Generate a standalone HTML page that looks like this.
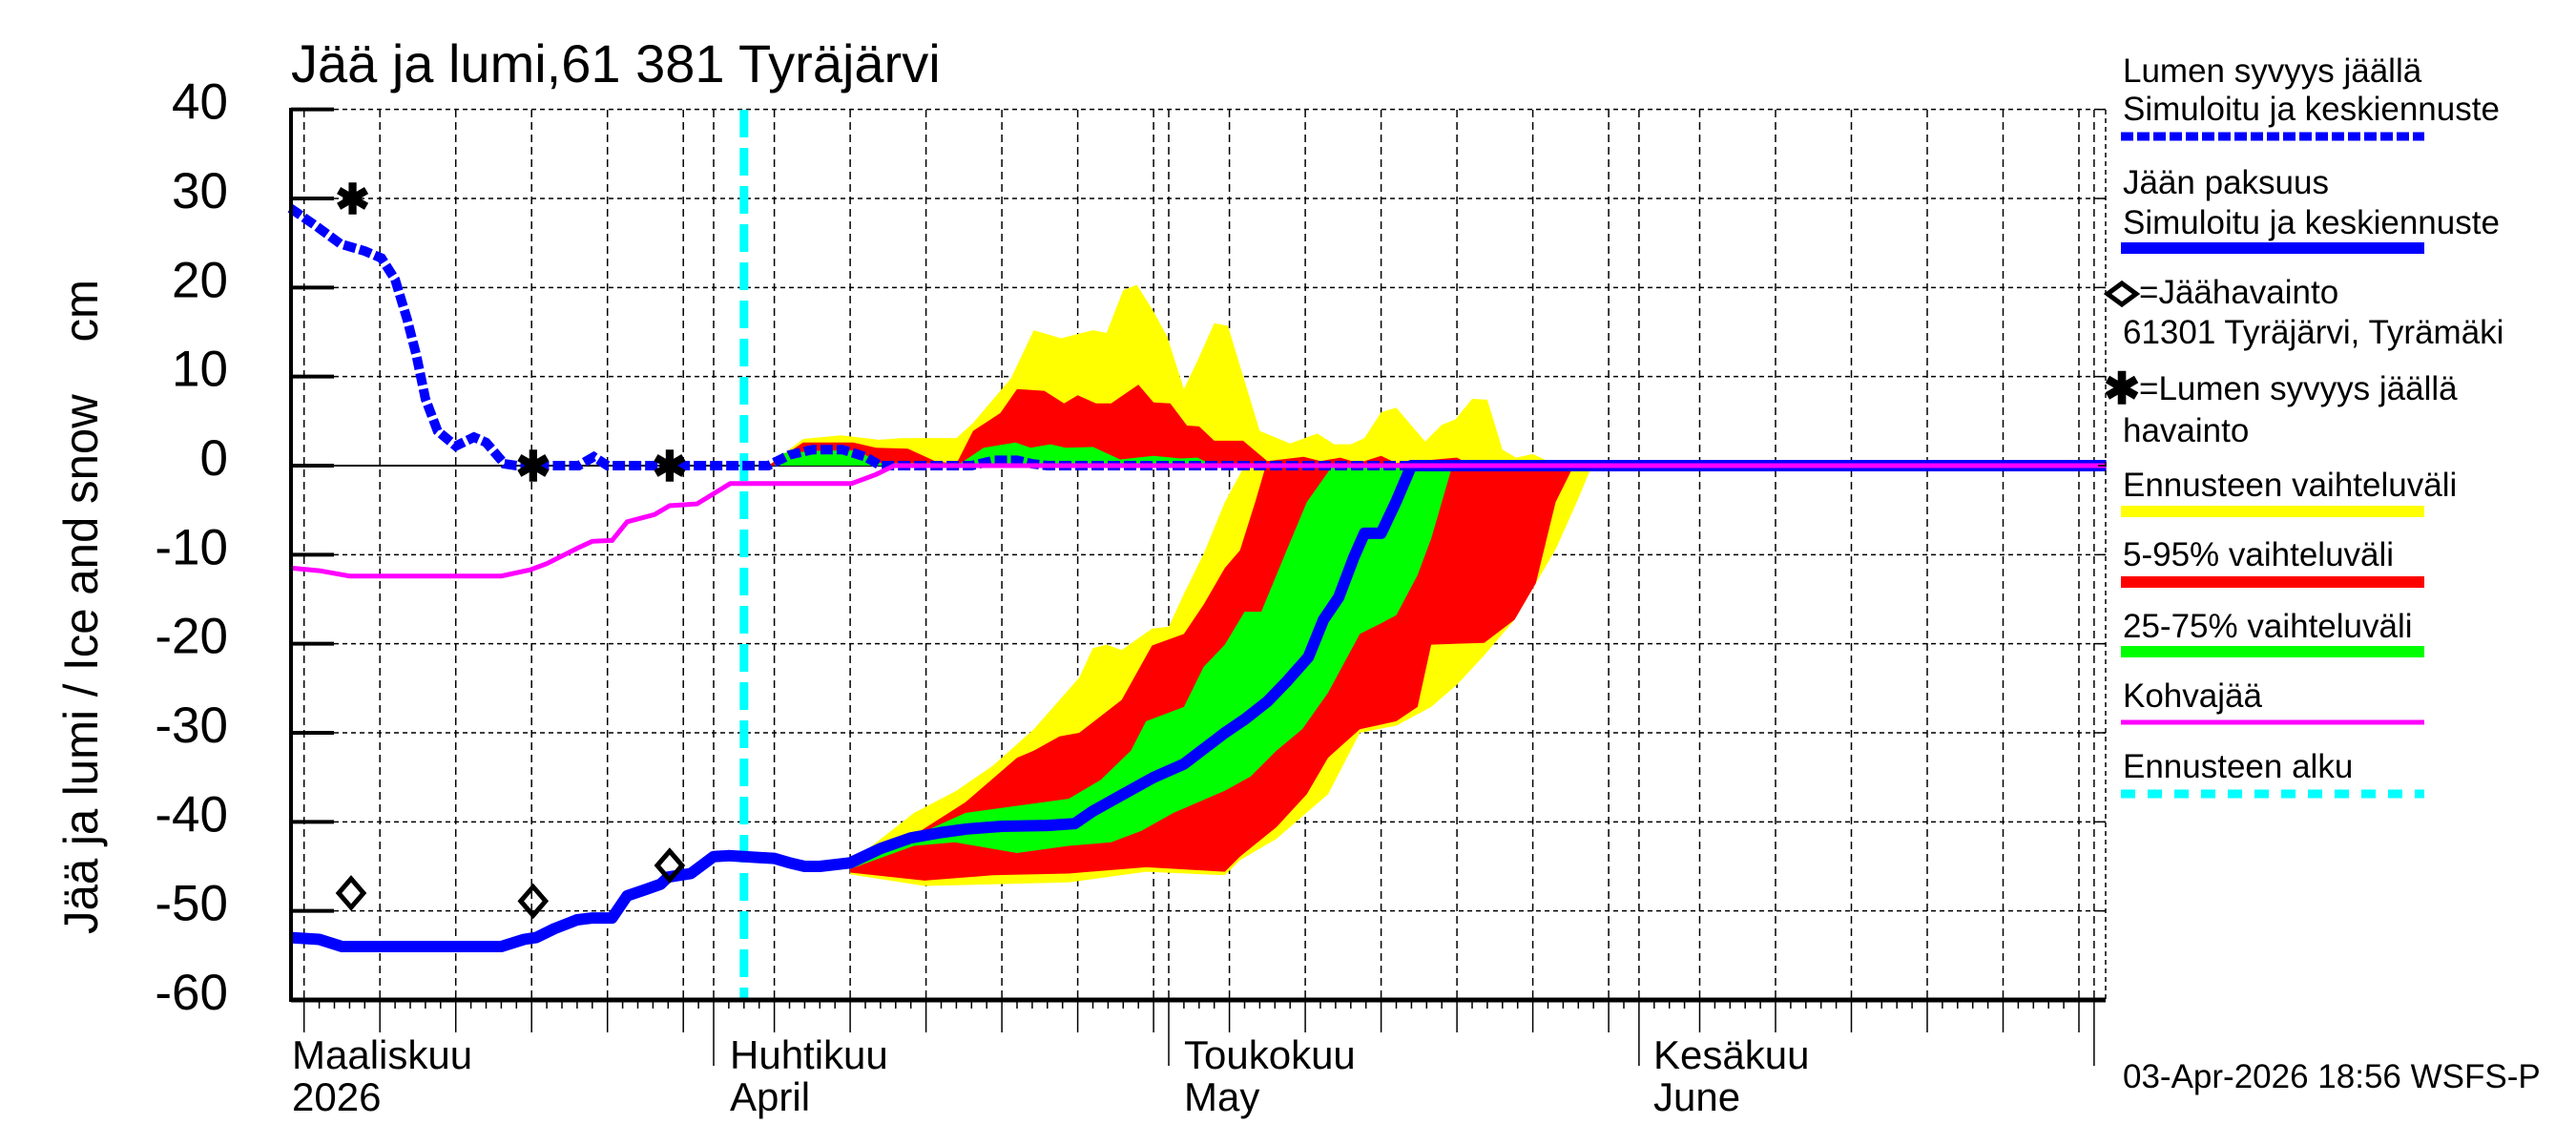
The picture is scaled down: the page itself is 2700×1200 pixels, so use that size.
<!DOCTYPE html>
<html><head><meta charset="utf-8"><title>Jää ja lumi, 61 381 Tyräjärvi</title>
<style>
html,body{margin:0;padding:0;background:#fff;}
svg{display:block;font-family:"Liberation Sans",Arial,sans-serif;}
</style></head>
<body>
<svg id="chart" width="2700" height="1200" viewBox="0 0 2700 1200" xmlns="http://www.w3.org/2000/svg">
<rect x="0" y="0" width="2700" height="1200" fill="#fff"/>
<g id="grid"></g>
<g id="bands"></g>
<g id="lines"></g>
<g id="obs"></g>
<g id="axes"></g>

<text x="305" y="86" font-size="56">Jää ja lumi,61 381 Tyräjärvi</text>
<text transform="translate(102,636) rotate(-90)" text-anchor="middle" font-size="50" textLength="686" lengthAdjust="spacingAndGlyphs" style="white-space:pre" xml:space="preserve">Jää ja lumi / Ice and snow&#160;&#160;&#160;&#160;cm</text>

<g font-size="42">
<text x="306" y="1120">Maaliskuu</text>
<text x="306" y="1164">2026</text>
<text x="765" y="1120">Huhtikuu</text>
<text x="765" y="1164">April</text>
<text x="1241" y="1120">Toukokuu</text>
<text x="1241" y="1164">May</text>
<text x="1733" y="1120">Kesäkuu</text>
<text x="1733" y="1164">June</text>
</g>

<g font-size="35">
<text x="2225" y="86">Lumen syvyys jäällä</text>
<text x="2225" y="126">Simuloitu ja keskiennuste</text>
<line x1="2223" y1="143" x2="2541" y2="143" stroke="#0000ff" stroke-width="9" stroke-dasharray="13 4"/>
<text x="2225" y="203">Jään paksuus</text>
<text x="2225" y="245">Simuloitu ja keskiennuste</text>
<line x1="2223" y1="260" x2="2541" y2="260" stroke="#0000ff" stroke-width="12"/>
<path d="M2209 308 L2224 297 L2239 308 L2224 319 Z" fill="none" stroke="#000" stroke-width="5"/>
<text x="2242" y="318">=Jäähavainto</text>
<text x="2225" y="360">61301 Tyräjärvi, Tyrämäki</text>
<text x="2224" y="423" text-anchor="middle" font-size="46" font-weight="bold">✱</text>
<text x="2242" y="419">=Lumen syvyys jäällä</text>
<text x="2225" y="463">havainto</text>
<text x="2225" y="520">Ennusteen vaihteluväli</text>
<line x1="2223" y1="536" x2="2541" y2="536" stroke="#ffff00" stroke-width="12"/>
<text x="2225" y="593">5-95% vaihteluväli</text>
<line x1="2223" y1="610" x2="2541" y2="610" stroke="#ff0000" stroke-width="12"/>
<text x="2225" y="668">25-75% vaihteluväli</text>
<line x1="2223" y1="683" x2="2541" y2="683" stroke="#00ff00" stroke-width="12"/>
<text x="2225" y="741">Kohvajää</text>
<line x1="2223" y1="757" x2="2541" y2="757" stroke="#ff00ff" stroke-width="5"/>
<text x="2225" y="815">Ennusteen alku</text>
<line x1="2223" y1="832" x2="2541" y2="832" stroke="#00ffff" stroke-width="9" stroke-dasharray="15 13"/>
<text x="2225" y="1140">03-Apr-2026 18:56 WSFS-P</text>
</g>
</svg>
<script>
// day index: 0 = 1 March 2026
const yTicks = [40, 30, 20, 10, 0, -10, -20, -30, -40, -50, -60];
const forecastStartDay = 33;

const snowDays = [3.1, 4.8, 6.4, 8, 9.1, 10, 10.8, 11.4, 12, 12.8, 14, 15.2, 16, 17.2, 18, 22.1, 23.1, 24, 33, 34.6, 36, 37.5, 39.5, 41, 42, 48, 49.5, 51, 52, 53, 122.8];
const snowValues = [28.9, 26.9, 24.9, 24.1, 23.3, 20.9, 16.4, 12.4, 7.5, 3.9, 2.2, 3.2, 2.6, 0.2, 0, 0, 1, 0, 0, 0, 1.2, 1.8, 1.8, 1, 0, 0, 0.6, 0.6, 0.2, 0, 0];

const iceDays = [3.1, 5, 6.5, 17, 18.5, 19.3, 20.5, 22, 23, 24.3, 25.3, 26.5, 27.5, 28, 29.5, 31, 32, 34, 35, 36, 37, 38, 40, 42, 44, 46, 47.7, 50, 53, 54.8, 56, 57.9, 60, 62, 64.7, 66, 67.5, 68.8, 70.2, 71.2, 72.2, 73.2, 73.9, 75, 76, 77, 122.8];
const iceValues = [-53, -53.2, -54, -54, -53.2, -53, -52, -51, -50.8, -50.8, -48.3, -47.6, -47, -46.2, -45.8, -43.9, -43.8, -44, -44.1, -44.6, -45, -45, -44.6, -43, -41.8, -41.2, -40.8, -40.5, -40.4, -40.2, -38.8, -37, -35, -33.5, -30, -28.5, -26.5, -24.2, -21.5, -17.3, -14.8, -10.3, -7.6, -7.6, -4, 0, 0];

const slushDays = [3.1, 5, 7, 17, 18.9, 20, 22.1, 23, 24.3, 25.3, 27.1, 28.1, 29.9, 32.1, 40.1, 41.7, 42.9, 122.8];
const slushValues = [-11.5, -11.8, -12.4, -12.4, -11.7, -11, -9.2, -8.5, -8.4, -6.3, -5.5, -4.5, -4.3, -2, -2, -1, 0, 0];

// ice forecast bands
const iceYellowUpDays = [40, 44.2, 47, 49.4, 52.1, 55.1, 56, 56.9, 57.9, 59.9, 61, 62, 63.3, 64.7, 66];
const iceYellowUpValues = [-44.6, -39, -36.5, -33.7, -29.6, -23.8, -20.5, -20.1, -20.7, -18.3, -18.1, -14.4, -9.9, -4.1, 0];
const iceYellowLowDays = [40, 44.9, 54.4, 59.5, 64.7, 65.7, 68.1, 71.5, 73.6, 76, 78.3, 80, 81.8, 83.8, 85.2, 86.5, 87.9, 88.9];
const iceYellowLowValues = [-45.9, -47.2, -46.8, -45.6, -46, -44.3, -41.9, -36.9, -30, -29.2, -27.1, -24.6, -21.3, -17.3, -13.2, -9.4, -4.1, 0];
const iceRedUpDays = [40, 44.2, 47.6, 51, 52.1, 53.8, 55.1, 57.9, 59.9, 62, 63.3, 64.7, 65.7, 66.7, 67.4];
const iceRedUpValues = [-44.6, -41.5, -37.8, -32.8, -32, -30.4, -30, -26.3, -20.2, -18.9, -15.6, -11.5, -9.5, -4.1, 0];
const iceRedLowDays = [40, 44.9, 49.4, 54.4, 59.5, 64.7, 65.7, 68.1, 70.1, 71.5, 73.6, 76, 77.4, 78.3, 81.8, 83.8, 85.2, 86.5, 87.7];
const iceRedLowValues = [-45.7, -46.6, -46, -45.8, -45.1, -45.6, -43.9, -40.6, -36.9, -32.8, -29.6, -28.7, -27.1, -20.1, -19.9, -17.3, -13.2, -4.1, 0];
const iceGreenUpDays = [40, 47.6, 51, 54.4, 56.5, 58.5, 59.5, 62, 63.3, 64.7, 66, 67.1, 68.8, 70.1, 71.8];
const iceGreenUpValues = [-44.8, -39, -38.2, -37.4, -35.3, -32, -28.7, -27.1, -22.6, -20.1, -16.4, -16.4, -9.4, -4.1, 0];
const iceGreenLowDays = [40, 44.2, 46.9, 51, 54.4, 57.2, 59.2, 61.3, 64.7, 66.4, 68.1, 69.8, 71.5, 73.6, 75, 76, 77.4, 78.3, 79.7];
const iceGreenLowValues = [-45.3, -42.7, -42.3, -43.5, -42.7, -42.3, -41, -39, -36.5, -34.9, -32, -29.6, -25.5, -18.9, -17.7, -16.8, -12.3, -8.2, 0];

// snow forecast bands (lower bound is 0)
const snowYellowDays = [34.6, 36.9, 39.4, 41.9, 43.4, 47, 48.1, 50.6, 52.1, 53.9, 56, 56.9, 58, 58.9, 60, 60.9, 62, 62.9, 64, 64.9, 67, 69, 70.8, 71.9, 73, 73.9, 75, 76, 77.9, 79, 79.9, 81, 82, 83, 83.9, 85, 86, 86.5];
const snowYellowValues = [0, 3, 3.4, 2.9, 3.1, 3.1, 4.8, 9.8, 15.2, 14.3, 15.2, 14.9, 19.7, 20.3, 17.3, 14.5, 8.6, 11.8, 16, 15.7, 3.9, 2.5, 3.6, 2.4, 2.4, 3.1, 6, 6.5, 2.7, 4.6, 5.2, 7.5, 7.4, 1.8, 0.9, 1.3, 0.5, 0];
const snowRedDays = [34.6, 36.9, 40.2, 41.7, 43.8, 45.6, 47, 48.1, 49.9, 51, 52.8, 54.1, 55, 56.2, 57.2, 59, 60, 61.1, 62.2, 63, 64, 65.9, 67.5, 69.9, 71, 72.3, 73.5, 75, 76, 80, 81];
const snowRedValues = [0, 2.6, 2.6, 2, 1.9, 0.5, 0.2, 3.9, 5.9, 8.6, 8.4, 7, 7.9, 7, 7, 9.1, 7.1, 7, 4.5, 4.4, 2.8, 2.8, 0.5, 1, 0.5, 0.9, 0.3, 1.1, 0.3, 0.9, 0];
const snowGreenDays = [35, 35.5, 38.3, 40.5, 41.9, 47.3, 48.8, 50.9, 51.9, 53.2, 54.2, 56, 57.8, 60, 61.8, 62.9, 63.6, 64.5];
const snowGreenValues = [0, 1.4, 1.7, 1.7, 0.3, 0.3, 2, 2.6, 2, 2.4, 2, 2.1, 0.7, 1.1, 0.8, 0.9, 0.3, 0];

// observations
const iceObsDays = [7.1, 19.1, 28.1];
const iceObsValues = [-48, -48.9, -44.9];
const snowObsDays = [7.2, 19.1, 28.1];
const snowObsValues = [30, 0, 0];

const NS = 'http://www.w3.org/2000/svg';
const PL = 305, PR = 2207, PT = 115, PB = 1048;
function X(d) { return 748 + (d - 31) * 15.9; }
function Y(v) { return 488 - v * 9.333; }
function mk(tag, attrs, parent) {
  const e = document.createElementNS(NS, tag);
  for (const k in attrs) e.setAttribute(k, attrs[k]);
  parent.appendChild(e);
  return e;
}
function pts(days, vals) { return days.map((d, i) => X(d).toFixed(1) + ',' + Y(vals[i]).toFixed(1)); }

const grid = document.getElementById('grid');
const bands = document.getElementById('bands');
const lines = document.getElementById('lines');
const obs = document.getElementById('obs');
const axes = document.getElementById('axes');

yTicks.forEach(v => {
  const y = Y(v);
  if (v !== 0) {
    const g = mk('line', {x1: PL, y1: y, x2: PR, y2: y, stroke: '#000', 'stroke-width': 1.5, 'stroke-dasharray': '5 4'}, grid);
    
    
  }
  const t = mk('line', {x1: PL, y1: y, x2: PL + 45, y2: y, stroke: '#000', 'stroke-width': 4}, axes);
  
  
  const rt = mk('line', {x1: PR - 8, y1: y, x2: PR, y2: y, stroke: '#000', 'stroke-width': 1.5}, axes);
  
  
  const lab = mk('text', {x: 239, y: y + 10, 'text-anchor': 'end', 'font-size': 53}, axes);
  lab.textContent = String(v);
  
  
});

const monthStarts = [31, 61, 92, 122];
for (let d = 3; d <= 122; d++) {
  const x = X(d);
  if (x < PL || x > PR) continue;
  let ms = 0; [0, 31, 61, 92, 122].forEach(m => { if (d >= m) ms = m; });
  const dom = d - ms + 1;
  const isMonth = monthStarts.includes(d);
  const isFive = dom % 5 === 0;
  const tk = mk('line', {x1: x, y1: PB, x2: x, y2: isMonth ? 1117 : (isFive ? 1082 : 1057), stroke: '#000', 'stroke-width': 1.5}, axes);
  
  
  if (isMonth || isFive) {
    const g = mk('line', {x1: x, y1: PT, x2: x, y2: PB, stroke: '#000', 'stroke-width': 1.5, 'stroke-dasharray': '8 5'}, grid);
    
    
  }
}

function iceBand(upD, upV, loD, loV, color, name) {
  const p = pts(upD, upV);
  p.push(X(loD[loD.length - 1]).toFixed(1) + ',' + Y(0).toFixed(1));
  const q = pts(loD, loV).reverse();
  const el = mk('polygon', {points: p.concat(q).join(' '), fill: color}, bands);
  
  
}
function snowBand(days, vals, color, name) {
  const p = pts(days, vals);
  p.push(X(days[days.length - 1]).toFixed(1) + ',' + Y(0).toFixed(1));
  p.push(X(days[0]).toFixed(1) + ',' + Y(0).toFixed(1));
  const el = mk('polygon', {points: p.join(' '), fill: color}, bands);
  
  
}
iceBand(iceYellowUpDays, iceYellowUpValues, iceYellowLowDays, iceYellowLowValues, '#ffff00', 'ice-range-band');
snowBand(snowYellowDays, snowYellowValues, '#ffff00', 'snow-range-band');
iceBand(iceRedUpDays, iceRedUpValues, iceRedLowDays, iceRedLowValues, '#ff0000', 'ice-5-95-band');
snowBand(snowRedDays, snowRedValues, '#ff0000', 'snow-5-95-band');
iceBand(iceGreenUpDays, iceGreenUpValues, iceGreenLowDays, iceGreenLowValues, '#00ff00', 'ice-25-75-band');
snowBand(snowGreenDays, snowGreenValues, '#00ff00', 'snow-25-75-band');

const zl = mk('line', {x1: PL, y1: Y(0), x2: PR, y2: Y(0), stroke: '#000', 'stroke-width': 2}, grid);



const fs = mk('line', {x1: X(forecastStartDay), y1: PT, x2: X(forecastStartDay), y2: PB, stroke: '#00ffff', 'stroke-width': 9, 'stroke-dasharray': '29 11'}, lines);



const ice = mk('polyline', {points: pts(iceDays, iceValues).join(' '), fill: 'none', stroke: '#0000ff', 'stroke-width': 12, 'stroke-linejoin': 'round'}, lines);


const snow = mk('polyline', {points: pts(snowDays, snowValues).join(' '), fill: 'none', stroke: '#0000ff', 'stroke-width': 10, 'stroke-dasharray': '13 4'}, lines);


const slush = mk('polyline', {points: pts(slushDays, slushValues).join(' '), fill: 'none', stroke: '#ff00ff', 'stroke-width': 5}, lines);



iceObsDays.forEach((d, i) => {
  const x = X(d), y = Y(iceObsValues[i]);
  const el = mk('path', {d: `M${x - 13} ${y} L${x} ${y - 15} L${x + 13} ${y} L${x} ${y + 15} Z`, fill: 'none', stroke: '#000', 'stroke-width': 5}, obs);
  
  
});
snowObsDays.forEach((d, i) => {
  const x = X(d), y = Y(snowObsValues[i]);
  const el = mk('text', {x: x, y: y + 16, 'text-anchor': 'middle', 'font-size': 44, 'font-weight': 'bold'}, obs);
  el.textContent = '✱';
  
  
});

const la = mk('line', {x1: PL, y1: PT - 2, x2: PL, y2: PB + 2, stroke: '#000', 'stroke-width': 4}, axes);


const ba = mk('line', {x1: PL, y1: PB, x2: PR, y2: PB, stroke: '#000', 'stroke-width': 5}, axes);


const ra = mk('line', {x1: PR, y1: PT, x2: PR, y2: PB, stroke: '#000', 'stroke-width': 1.5, 'stroke-dasharray': '5 4'}, axes);


</script>
</body></html>
